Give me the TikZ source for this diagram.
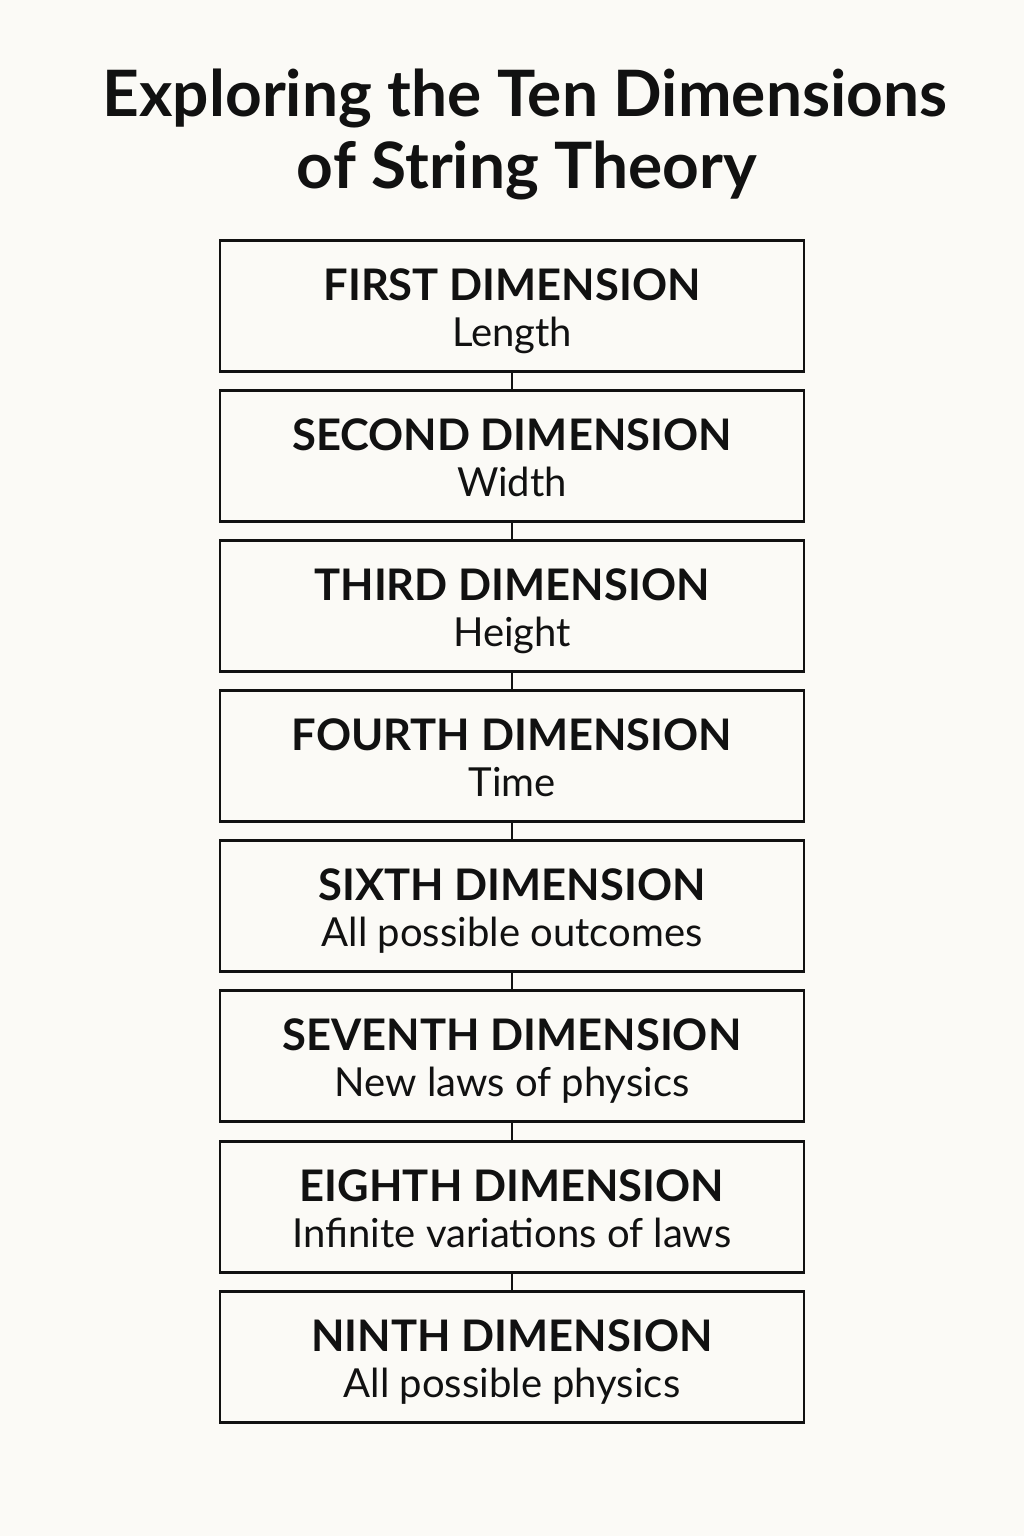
\documentclass[tikz,border=0pt]{standalone}
\usepackage{fontspec}
\setmainfont{Lato}
\definecolor{bg}{HTML}{FBFAF6}
\definecolor{ink}{HTML}{111111}
\begin{document}
\begin{tikzpicture}[x=1pt,y=-1pt,
  dimbox/.style={draw=ink,line width=2.6pt,minimum width=584pt,minimum height=131pt,inner sep=0pt},
  headtxt/.style={anchor=base,inner sep=0pt,text=ink,font=\bfseries\fontsize{43.5}{50}\selectfont},
  subtxt/.style={anchor=base,inner sep=0pt,text=ink,font=\fontsize{40}{48}\selectfont},
  conn/.style={draw=ink,line width=2pt},
  ttl/.style={anchor=base,font=\bfseries\fontsize{64}{70}\selectfont,text=ink,inner sep=0pt}]
\fill[bg] (0,0) rectangle (1024,1536);
\useasboundingbox (0,0) rectangle (1024,1536);
\node[ttl] (title1) at (525,117) {Exploring the Ten Dimensions};
\node[ttl] (title2) at (527,188) {of String Theory};
\foreach \n/\y/\h/\s in {
  1/306/FIRST DIMENSION/Length,
  2/456/SECOND DIMENSION/Width,
  3/606/THIRD DIMENSION/Height,
  4/756/FOURTH DIMENSION/Time,
  5/906/SIXTH DIMENSION/All possible outcomes,
  6/1056/SEVENTH DIMENSION/New laws of physics,
  7/1207/EIGHTH DIMENSION/Infinite variations of laws,
  8/1357/NINTH DIMENSION/All possible physics}{
  \node[dimbox] (d\n) at (512,\y) {};
  \node[headtxt] (d\n h) at ([yshift=6pt]d\n.center) {\h};
  \node[subtxt] (d\n s) at ([yshift=-40pt]d\n.center) {\s};
}
\foreach \a/\b in {1/2,2/3,3/4,4/5,5/6,6/7,7/8}
  \draw[conn] (d\a.south) -- (d\b.north);
\end{tikzpicture}
\end{document}
